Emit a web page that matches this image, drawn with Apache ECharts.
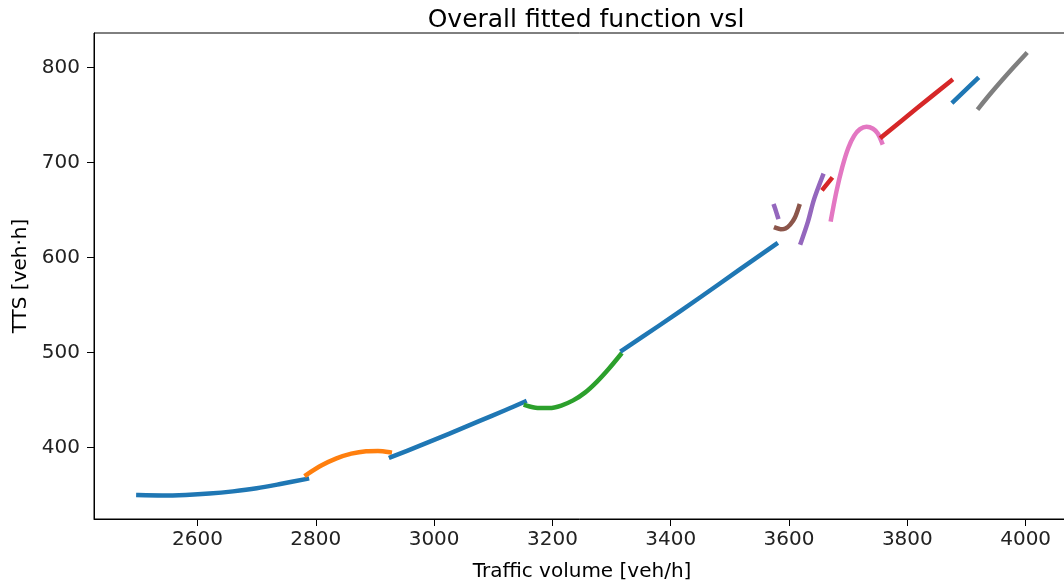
<!DOCTYPE html>
<html>
<head>
<meta charset="utf-8">
<script src="https://cdn.jsdelivr.net/npm/echarts@6/dist/echarts.min.js"></script>
<style>
  html, body { margin: 0; padding: 0; background: #fff; }
  #main { width: 1064px; height: 588px; }
</style>
</head>
<body>
<div id="main"></div>
<script>
    // fitted pieces, [traffic volume, TTS]
    var blue1 = [[2500,349.7],[2540,349.3],[2580,349.9],[2620,351.3],[2660,353.6],[2700,356.8],[2740,361.3],[2785,366.8]];
    var orange1 = [[2784,371],[2810,381],[2835,388.3],[2860,393.3],[2885,395.9],[2905,396.2],[2925,394.8]];
    var blue2 = [[2927,389.6],[2975,401.5],[3025,414.2],[3075,427.3],[3120,439],[3153,448]];
    var green1 = [[3155,444.2],[3175,441.4],[3195,441.3],[3215,444],[3235,449.4],[3255,457.6],[3275,469],[3295,482.5],[3315,497.5]];
    var blue3 = [[3318,502],[3380,528],[3450,558],[3515,586.5],[3578,614]];
    var purple1 = [[3575,654],[3578,648.5],[3581,642.5]];
    var brown1 = [[3578,631],[3586,629.6],[3594,630.5],[3602,634.5],[3610,642],[3617,654]];
    var purple2 = [[3620,615.5],[3632,637.7],[3642,660.6],[3657,686]];
    var red1 = [[3658,672.5],[3671,682.5]];
    var pink1 = [[3671,640],[3680,669],[3690,695],[3700,715],[3710,728],[3720,735],[3731,737.5],[3742,735.5],[3750,730.5],[3757,721]];
    var red2 = [[3757,727],[3815,756.5],[3874,786]];
    var blue4 = [[3878,764],[3918,788]];
    var gray1 = [[3921,757.5],[3940,772],[3960,786.5],[3980,800.5],[4000,814]];

    var pieces = [blue1, orange1, blue2, green1, blue3, purple1, brown1, purple2, red1, pink1, red2, blue4, gray1];
    var colors = ['#1f77b4','#ff7f0e','#1f77b4','#2ca02c','#1f77b4','#9467bd','#8c564b','#9467bd','#d62728','#e377c2','#d62728','#1f77b4','#7f7f7f'];

    var xTicks = [2600, 2800, 3000, 3200, 3400, 3600, 3800, 4000];
    var yTicks = [400, 500, 600, 700, 800];

    var font = 'DejaVu Sans';
    var chart = echarts.init(document.getElementById('main'));

    var series = [];
    for (var i = 0; i < pieces.length; i++) {
        series.push({
            type: 'line',
            data: pieces[i],
            showSymbol: false,
            smooth: 0.3,
            animation: false,
            lineStyle: { color: colors[i], width: 4.5, cap: 'square', join: 'round' }
        });
    }

    function plain(v) { return String(v); }

    chart.setOption({
        animation: false,
        title: {
            text: 'Overall fitted function vsl',
            left: 581,
            top: 3,
            textAlign: 'center',
            textStyle: { fontFamily: font, fontSize: 25, fontWeight: 'normal', color: '#000' }
        },
        grid: {
            left: 94,
            top: 33,
            width: 976,
            height: 486,
            outerBoundsMode: 'none',
            show: true,
            borderColor: '#000',
            borderWidth: 1,
            backgroundColor: 'transparent'
        },
        xAxis: {
            type: 'value',
            min: 2425,
            max: 4075,
            name: 'Traffic volume [veh/h]',
            nameLocation: 'middle',
            nameGap: 43,
            nameTextStyle: { fontFamily: font, fontSize: 20, color: '#000' },
            axisLine: { onZero: false, lineStyle: { color: '#000', width: 1 } },
            axisTick: { show: true, length: 7, lineStyle: { color: '#000' }, customValues: xTicks },
            axisLabel: { fontFamily: font, fontSize: 20, color: '#222', margin: 11, customValues: xTicks, formatter: plain },
            splitLine: { show: false }
        },
        yAxis: {
            type: 'value',
            min: 324.5,
            max: 836.3,
            name: 'TTS [veh·h]',
            nameLocation: 'middle',
            nameRotate: 90,
            nameGap: 56,
            nameTextStyle: { fontFamily: font, fontSize: 20, color: '#000' },
            axisLine: { onZero: false, lineStyle: { color: '#000', width: 1 } },
            axisTick: { show: true, length: 7, lineStyle: { color: '#000' }, customValues: yTicks },
            axisLabel: { fontFamily: font, fontSize: 20, color: '#222', margin: 14, customValues: yTicks, formatter: plain },
            splitLine: { show: false }
        },
        series: series
    });
</script>
</body>
</html>
